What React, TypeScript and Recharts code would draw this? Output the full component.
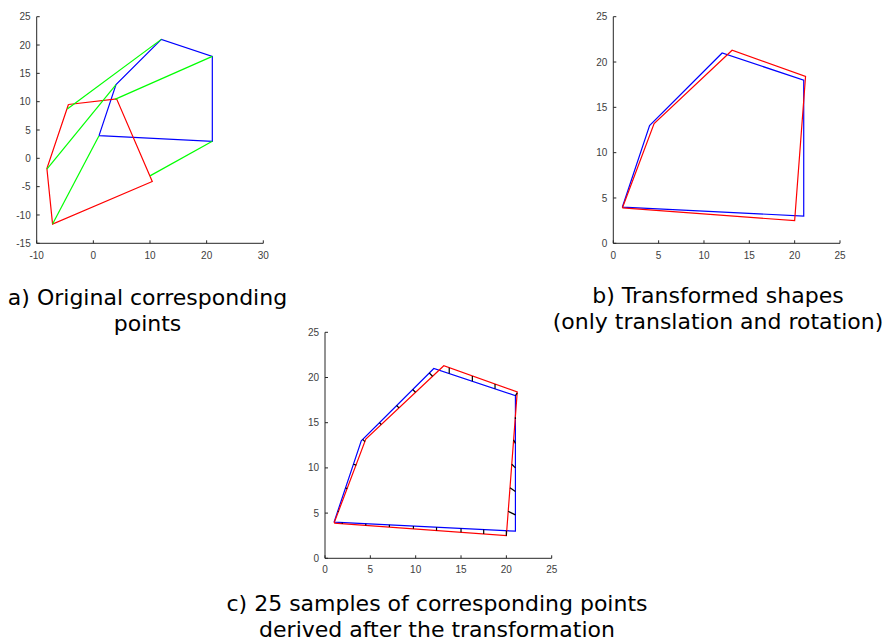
import React from 'react';
import { ScatterChart, Scatter, XAxis, YAxis } from 'recharts';

// ---- Panel a: original shapes ----
const blueX = [1, 4, 12, 21, 21, 1];
const blueY = [4, 13, 21, 18, 3, 4];
const redOrigX = [-4.4, 4.1, 10.4, -7.2, -8.2, -4.4];
const redOrigY = [9.5, 10.5, -4.1, -11.6, -1.8, 9.5];
const greenFromX = [12, 21, 4, 1, 21];
const greenFromY = [21, 18, 13, 4, 3];
const greenToX = [-4.6, 3.8, -8.2, -7.2, 10.0];
const greenToY = [8.7, 10.4, -1.9, -11.6, -3.1];

// ---- Panel b/c: transformed red shape ----
const redTransX = [1.0, 4.5, 13.1, 21.2, 20.0, 1.0];
const redTransY = [3.9, 13.2, 21.3, 18.4, 2.5, 3.9];

// ---- Panel c: 25 sampled correspondences ----
const sampleBlueX = [1.4, 2.27, 3.13, 4.16, 6.0, 7.9, 9.67, 11.5, 13.7, 16.25, 18.75, 21, 21, 21, 21, 21, 21, 20.0, 17.5, 15.0, 12.3, 9.75, 7.1, 4.5, 1.9];
const sampleBlueY = [5.2, 7.8, 10.4, 13.16, 15.0, 16.9, 18.67, 20.5, 20.43, 19.58, 18.75, 18.0, 15.4, 12.7, 10.0, 7.4, 4.8, 3.05, 3.18, 3.3, 3.44, 3.56, 3.7, 3.83, 3.96];
const sampleRedX = [1.5, 2.45, 3.45, 4.4, 6.2, 8.16, 9.98, 11.86, 13.7, 16.25, 18.75, 21.2, 21.0, 20.8, 20.6, 20.4, 20.2, 20.0, 17.5, 15.0, 12.3, 9.75, 7.1, 4.5, 1.9];
const sampleRedY = [5.2, 7.7, 10.3, 12.9, 14.8, 16.64, 18.37, 20.14, 21.09, 20.17, 19.28, 18.3, 15.6, 13.1, 10.4, 7.8, 5.2, 2.5, 2.68, 2.87, 3.07, 3.26, 3.45, 3.64, 3.83];

// ---- Axis ticks ----
const ticksA_X = [-10, 0, 10, 20, 30];
const ticksA_Y = [-15, -10, -5, 0, 5, 10, 15, 20, 25];
const ticks25 = [0, 5, 10, 15, 20, 25];

const pts = (xs: number[], ys: number[]) => xs.map((x, i) => ({ x, y: ys[i] }));
const seg = (x1: number, y1: number, x2: number, y2: number) => [
  { x: x1, y: y1 },
  { x: x2, y: y2 },
];

const BLUE = '#0000ff';
const RED = '#ff0000';
const GREEN = '#00ff00';
const BLACK = '#000000';

type Series = { data: { x: number; y: number }[]; color: string };

const noShape = () => <g />;

const tickStyle = { fill: '#404040', fontSize: 10, fontFamily: 'Liberation Sans, Arial, sans-serif' };

function Panel(props: {
  left: number;
  top: number;
  width: number;
  height: number;
  yAxisWidth: number;
  marginTop: number;
  marginRight: number;
  xAxisHeight: number;
  xDomain: [number, number];
  xTicks: number[];
  yDomain: [number, number];
  yTicks: number[];
  xTickMargin: number;
  series: Series[];
}) {
  const p = props;
  return (
    <div style={{ position: 'absolute', left: p.left, top: p.top }}>
      <ScatterChart
        width={p.width}
        height={p.height}
        margin={{ top: p.marginTop, right: p.marginRight, bottom: 0, left: 0 }}
      >
        <XAxis
          type="number"
          dataKey="x"
          domain={p.xDomain}
          ticks={p.xTicks}
          allowDataOverflow
          height={p.xAxisHeight}
          axisLine={{ stroke: '#262626' }}
          tickLine={{ stroke: '#262626' }}
          tickSize={-3}
          tickMargin={p.xTickMargin}
          tick={tickStyle}
          interval={0}
        />
        <YAxis
          type="number"
          dataKey="y"
          domain={p.yDomain}
          ticks={p.yTicks}
          allowDataOverflow
          width={p.yAxisWidth}
          axisLine={{ stroke: '#262626' }}
          tickLine={{ stroke: '#262626' }}
          tickSize={-3}
          tickMargin={9}
          tick={tickStyle}
          interval={0}
        />
        {p.series.map((s, i) => (
          <Scatter
            key={i}
            data={s.data}
            line={{ stroke: s.color, strokeWidth: 1.2 }}
            lineType="joint"
            shape={noShape}
            fill="none"
            isAnimationActive={false}
          />
        ))}
      </ScatterChart>
    </div>
  );
}

function Caption({ cx, top, lines }: { cx: number; top: number; lines: string[] }) {
  return (
    <div
      style={{
        position: 'absolute',
        left: cx - 250,
        top,
        width: 500,
        textAlign: 'center',
        fontFamily: 'DejaVu Sans, sans-serif',
        fontSize: 22,
        lineHeight: '26px',
        color: '#000',
        whiteSpace: 'nowrap',
      }}
    >
      {lines.map((l, i) => (
        <div key={i}>{l}</div>
      ))}
    </div>
  );
}

export default function App() {
  const blue = pts(blueX, blueY);
  const redOrig = pts(redOrigX, redOrigY);
  const redTrans = pts(redTransX, redTransY);

  const seriesA: Series[] = [
    { data: blue, color: BLUE },
    { data: redOrig, color: RED },
    ...greenFromX.map((_, i) => ({
      data: seg(greenFromX[i], greenFromY[i], greenToX[i], greenToY[i]),
      color: GREEN,
    })),
  ];
  const seriesB: Series[] = [
    { data: blue, color: BLUE },
    { data: redTrans, color: RED },
  ];
  const seriesC: Series[] = [
    { data: blue, color: BLUE },
    { data: redTrans, color: RED },
    ...sampleBlueX.map((_, i) => ({
      data: seg(sampleBlueX[i], sampleBlueY[i], sampleRedX[i], sampleRedY[i]),
      color: BLACK,
    })),
  ];

  return (
    <div style={{ position: 'absolute', left: 0, top: 0, width: 885, height: 642, background: '#fff', overflow: 'hidden' }}>
      <Panel
        left={0}
        top={0}
        width={280}
        height={270}
        yAxisWidth={36.7}
        marginTop={16.7}
        marginRight={16.7}
        xAxisHeight={26.7}
        xDomain={[-10, 30]}
        xTicks={ticksA_X}
        yDomain={[-15, 25]}
        yTicks={ticksA_Y}
        xTickMargin={11.5}
        series={seriesA}
      />
      <Panel
        left={570}
        top={0}
        width={290}
        height={270}
        yAxisWidth={43.3}
        marginTop={16.7}
        marginRight={20}
        xAxisHeight={26.7}
        xDomain={[0, 25]}
        xTicks={ticks25}
        yDomain={[0, 25]}
        yTicks={ticks25}
        xTickMargin={11.5}
        series={seriesB}
      />
      <Panel
        left={285}
        top={315}
        width={290}
        height={270}
        yAxisWidth={40}
        marginTop={17.3}
        marginRight={23.3}
        xAxisHeight={26.7}
        xDomain={[0, 25]}
        xTicks={ticks25}
        yDomain={[0, 25]}
        yTicks={ticks25}
        xTickMargin={10.5}
        series={seriesC}
      />
      <Caption cx={147.5} top={285} lines={['a) Original corresponding', 'points']} />
      <Caption cx={718} top={283} lines={['b) Transformed shapes', '(only translation and rotation)']} />
      <Caption cx={437} top={591} lines={['c) 25 samples of corresponding points', 'derived after the transformation']} />
    </div>
  );
}
